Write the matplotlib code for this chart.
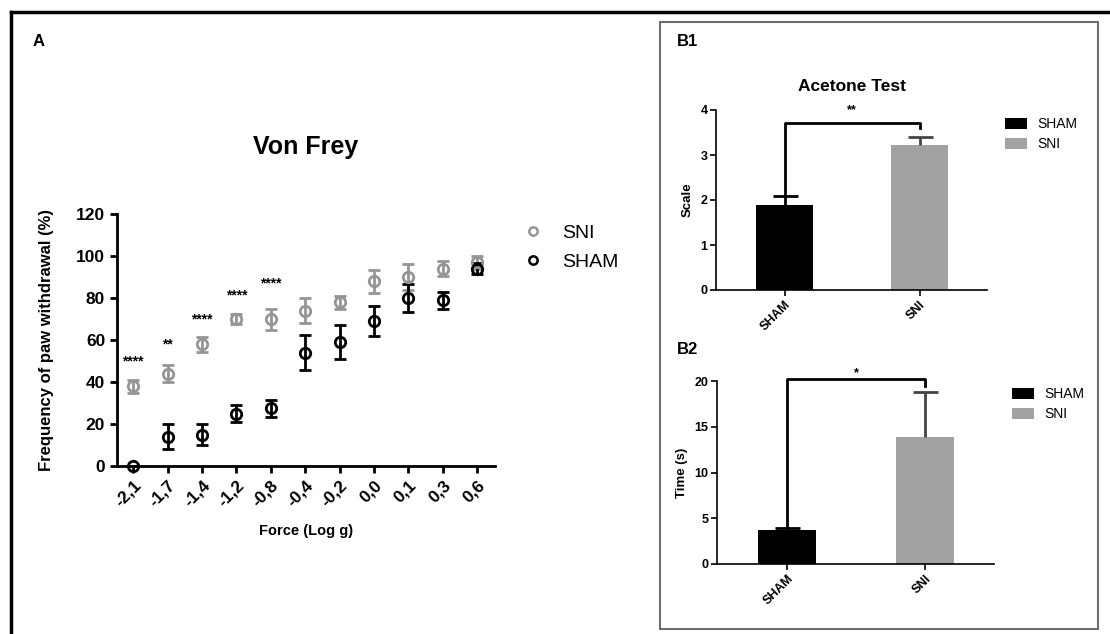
import matplotlib
matplotlib.use("Agg")
import matplotlib.pyplot as plt
from matplotlib.patches import Rectangle
from matplotlib.lines import Line2D

plt.rcParams['font.family'] = ['Liberation Sans', 'DejaVu Sans']

# --- data ---
force_labels = ['-2,1', '-1,7', '-1,4', '-1,2', '-0,8', '-0,4', '-0,2', '0,0', '0,1', '0,3', '0,6']
sni_mean = [38, 44, 58, 70, 70, 74, 78, 88, 90, 94, 97]
sni_err = [3, 4, 3.5, 2.5, 5, 6, 3, 5.5, 6, 3.5, 3]
sham_mean = [0, 14, 15, 25, 27.5, 54, 59, 69, 80, 79, 94]
sham_err = [0, 6, 5, 4, 4, 8.5, 8, 7, 6.5, 4, 2.5]
star_idx = [0, 1, 2, 3, 4]
star_y = [50, 58, 70, 81, 87]
star_txt = ['****', '**', '****', '****', '****']

groups = ['SHAM', 'SNI']
acetone_mean = [1.9, 3.22]
acetone_err = [0.2, 0.18]
time_mean = [3.7, 13.9]
time_err = [0.25, 4.9]

W, H = 1110, 634
fig = plt.figure(figsize=(W / 100, H / 100), dpi=100)

def box(l, t, r, b):
    # pixel box -> figure fraction rect
    return [l / W, 1 - b / H, (r - l) / W, (b - t) / H]

def fpt(px, py):
    return (px / W, 1 - py / H)

# outer frame (left + top only visible)
fig.add_artist(Line2D([11 / W, 11 / W], [0, 1 - 12 / H], color='black', lw=2.5, transform=fig.transFigure))
fig.add_artist(Line2D([11 / W, 1], [1 - 12 / H, 1 - 12 / H], color='black', lw=2.5, transform=fig.transFigure))
# gray frame around B panels
fig.add_artist(Rectangle((660 / W, 1 - 629 / H), (1098 - 660) / W, (629 - 22) / H,
                         fill=False, ec='#6e6e6e', lw=1.5, transform=fig.transFigure))

gray = '#959595'

# ---------- panel A ----------
ax = fig.add_axes(box(117, 214, 495, 466))
x = list(range(len(force_labels)))
ax.errorbar(x, sni_mean, yerr=sni_err, fmt='o', mfc='none', mec=gray, ms=7.5, mew=2,
            ecolor=gray, elinewidth=2, capsize=4, capthick=2, clip_on=False)
ax.errorbar(x, sham_mean, yerr=sham_err, fmt='o', mfc='none', mec='black', ms=7.5, mew=2,
            ecolor='black', elinewidth=2, capsize=4, capthick=2, clip_on=False)
for i, yy, t in zip(star_idx, star_y, star_txt):
    ax.text(i, yy, t, ha='center', va='center', fontsize=10, fontweight='bold')
ax.set_xlim(-0.47, 10.52)
ax.set_ylim(0, 120)
ax.set_yticks(range(0, 121, 20))
ax.set_xticks(x)
ax.set_xticklabels(force_labels, rotation=45, ha='right', rotation_mode='anchor')
for lab in ax.get_xticklabels() + ax.get_yticklabels():
    lab.set_fontsize(12.5)
    lab.set_fontweight('bold')
ax.spines[['top', 'right']].set_visible(False)
for s in ['left', 'bottom']:
    ax.spines[s].set_linewidth(2)
ax.tick_params(width=2, length=5)
ax.set_ylabel('Frequency of paw withdrawal (%)', fontsize=12, fontweight='bold', labelpad=16)
ax.set_xlabel('Force (Log g)', fontsize=10.5, fontweight='bold', labelpad=10)
ax.set_title('Von Frey', fontsize=18, fontweight='bold', pad=43)
handles = [Line2D([], [], ls='none', marker='o', mfc='none', mec=gray, ms=6, mew=1.8),
           Line2D([], [], ls='none', marker='o', mfc='none', mec='black', ms=6, mew=1.8)]
ax.legend(handles, ['SNI', 'SHAM'], loc='upper left', bbox_to_anchor=fpt(523, 224),
          bbox_transform=fig.transFigure, frameon=False, fontsize=14, borderpad=0,
          borderaxespad=0, handlelength=1.0, handletextpad=1.0, labelspacing=0.6)
fig.text(39 / W, 1 - 41 / H, 'A', fontsize=12, fontweight='bold', ha='center', va='center')

# ---------- panel B helper ----------
def bar_panel(rect, means, errs, ylim, yticks, ylabel, bracket_y, left_foot, right_foot,
              star, star_y_val, leg_xy):
    bx = fig.add_axes(rect)
    pos = [0, 1]
    colors = ['black', '#a2a2a5']
    ecols = ['black', '#444444']
    bx.bar(pos, means, width=0.42, color=colors, label=groups, zorder=2)
    for p, m, e, c in zip(pos, means, errs, ecols):
        eb = bx.errorbar(p, m, yerr=[[0], [e]], fmt='none', ecolor=c,
                         elinewidth=2, capsize=9, capthick=2, zorder=3)
        eb[1][0].set_visible(False)  # no cap at the bar top
    bx.plot([0, 0, 1, 1], [left_foot, bracket_y, bracket_y, right_foot], color='black', lw=2,
            clip_on=False, zorder=4)
    bx.text(0.5, star_y_val, star, ha='center', va='center', fontsize=9, fontweight='bold')
    bx.set_xlim(-0.51, 1.5)
    bx.set_ylim(*ylim)
    bx.set_yticks(yticks)
    bx.set_xticks(pos)
    bx.set_xticklabels(groups, rotation=45, ha='right', rotation_mode='anchor')
    for lab in bx.get_xticklabels() + bx.get_yticklabels():
        lab.set_fontsize(9)
        lab.set_fontweight('bold')
    bx.spines[['top', 'right']].set_visible(False)
    for s in ['left', 'bottom']:
        bx.spines[s].set_linewidth(1.2)
    bx.tick_params(width=1.2, length=4, pad=2)
    bx.set_ylabel(ylabel, fontsize=9.5, fontweight='bold', labelpad=5)
    bx.legend(loc='upper left', bbox_to_anchor=fpt(*leg_xy), bbox_transform=fig.transFigure,
              frameon=False, fontsize=10, borderpad=0, borderaxespad=0,
              handlelength=1.6, handleheight=0.85, handletextpad=0.7, labelspacing=0.45)
    return bx

b1 = bar_panel(box(716, 110, 987, 290), acetone_mean, acetone_err, (0, 4), range(0, 5), 'Scale',
               3.72, 2.1, 3.6, '**', 4.0, (1005, 117))
b1.set_title('Acetone Test', fontsize=12.5, fontweight='bold', pad=14)
fig.text(687 / W, 1 - 41 / H, 'B1', fontsize=12, fontweight='bold', ha='center', va='center')

b2 = bar_panel(box(717, 381, 994, 564), time_mean, time_err, (0, 20), range(0, 21, 5), 'Time (s)',
               20.2, 4.0, 19.5, '*', 20.9, (1012, 387))
fig.text(687 / W, 1 - 350 / H, 'B2', fontsize=12, fontweight='bold', ha='center', va='center')

fig.savefig('out.png', dpi=100, facecolor='white')
